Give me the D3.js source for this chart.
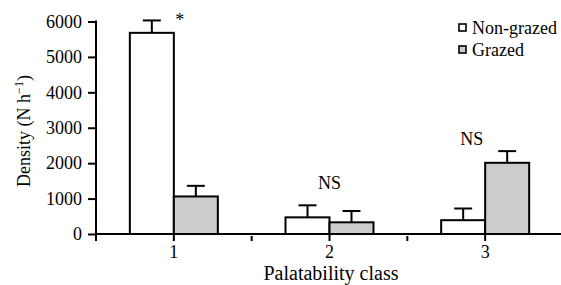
<!DOCTYPE html>
<html>
<head>
<meta charset="utf-8">
<script src="https://cdn.jsdelivr.net/npm/d3@7"></script>
<style>
  body { margin: 0; background: #fff; }
</style>
</head>
<body>
<svg id="chart" width="561" height="285" font-family="'Liberation Serif', 'Times New Roman', Times, 'DejaVu Serif', serif"></svg>
<script>
const categories = ['1', '2', '3']
const seriesNames = ['Non-grazed', 'Grazed']
const nonGrazed = [5680, 470, 390]
const grazed = [1060, 330, 2010]
const nonGrazedErr = [350, 340, 330]
const grazedErr = [300, 320, 330]
const significance = ['*', 'NS', 'NS']
const significanceLevel = [5870, 1260, 2500]
const yTicks = [0, 1000, 2000, 3000, 4000, 5000, 6000]

const svg = d3.select('#chart')
const fontFamily = "'Liberation Serif', 'Times New Roman', Times, 'DejaVu Serif', serif"
const fills = ['#ffffff', '#cccccc']
const plotLeft = 96, plotRight = 563, plotTop = 21.5, plotBottom = 234
const lw = 2

const x = d3.scaleBand().domain(categories).range([plotLeft, plotRight])
const y = d3.scaleLinear().domain([0, 6000]).range([plotBottom, plotTop])
const barW = 44

// bars + error bars
const series = [
    { values: nonGrazed, err: nonGrazedErr, offset: -barW },
    { values: grazed, err: grazedErr, offset: 0 }
]
series.forEach((s, si) => {
    categories.forEach((c, i) => {
        const cx = x(c) + x.bandwidth() / 2 + s.offset
        const mid = cx + barW / 2
        const errTop = y(s.values[i] + s.err[i])
        svg.append('line')
            .attr('x1', mid).attr('x2', mid)
            .attr('y1', y(s.values[i])).attr('y2', errTop)
            .attr('stroke', '#000').attr('stroke-width', lw)
        svg.append('line')
            .attr('x1', mid - 9).attr('x2', mid + 9)
            .attr('y1', errTop).attr('y2', errTop)
            .attr('stroke', '#000').attr('stroke-width', lw)
        svg.append('rect')
            .attr('x', cx).attr('y', y(s.values[i]))
            .attr('width', barW).attr('height', y(0) - y(s.values[i]))
            .attr('fill', fills[si]).attr('stroke', '#000').attr('stroke-width', lw)
    })
})

// y axis
const yAxis = svg.append('g').attr('transform', `translate(${plotLeft},0)`)
    .call(d3.axisLeft(y).tickValues(yTicks).tickFormat(d3.format('d')).tickSize(8).tickPadding(6))
yAxis.attr('font-family', fontFamily).attr('font-size', 18)
yAxis.select('.domain').remove()
yAxis.append('line').attr('x1', 0).attr('x2', 0).attr('y1', plotTop - 1).attr('y2', plotBottom + 7)
    .attr('stroke', '#000').attr('stroke-width', lw)
yAxis.selectAll('.tick line').attr('stroke-width', lw)
yAxis.selectAll('text').attr('fill', '#000')

// x axis
const xAxis = svg.append('g').attr('transform', `translate(0,${plotBottom})`)
    .call(d3.axisBottom(x).tickSize(7).tickPadding(4))
xAxis.attr('font-family', fontFamily).attr('font-size', 18)
xAxis.select('.domain').remove()
xAxis.append('line').attr('x1', plotLeft).attr('x2', 561).attr('y1', 0).attr('y2', 0)
    .attr('stroke', '#000').attr('stroke-width', lw)
xAxis.selectAll('.tick line').attr('stroke-width', lw)
xAxis.selectAll('text').attr('fill', '#000')
// boundary ticks between classes
categories.slice(1).forEach(c => {
    xAxis.append('line').attr('x1', x(c)).attr('x2', x(c)).attr('y1', 2).attr('y2', 7)
        .attr('stroke', '#000').attr('stroke-width', lw)
})

// significance labels
const sigDx = [6, 0, -13.5]
significance.forEach((t, i) => {
    svg.append('text')
        .attr('x', x(categories[i]) + x.bandwidth() / 2 + sigDx[i])
        .attr('y', y(significanceLevel[i]))
        .attr('text-anchor', 'middle')
        .attr('font-size', 18)
        .text(t)
})

// axis titles
svg.append('text')
    .attr('transform', 'translate(30,131) rotate(-90)')
    .attr('text-anchor', 'middle')
    .attr('font-size', 18)
    .html('Density (N h<tspan dy="-7" font-size="12">−1</tspan><tspan dy="7">)</tspan>')
svg.append('text')
    .attr('x', 331).attr('y', 280)
    .attr('text-anchor', 'middle')
    .attr('font-size', 20)
    .text('Palatability class')

// legend
seriesNames.forEach((name, i) => {
    const ly = 27.5 + i * 22
    svg.append('rect').attr('x', 459).attr('y', ly - 3.5).attr('width', 7).attr('height', 7)
        .attr('fill', fills[i]).attr('stroke', '#000').attr('stroke-width', 1.6)
    svg.append('text').attr('x', 472).attr('y', ly + 6)
        .attr('font-size', 18).text(name)
})
</script>
</body>
</html>
